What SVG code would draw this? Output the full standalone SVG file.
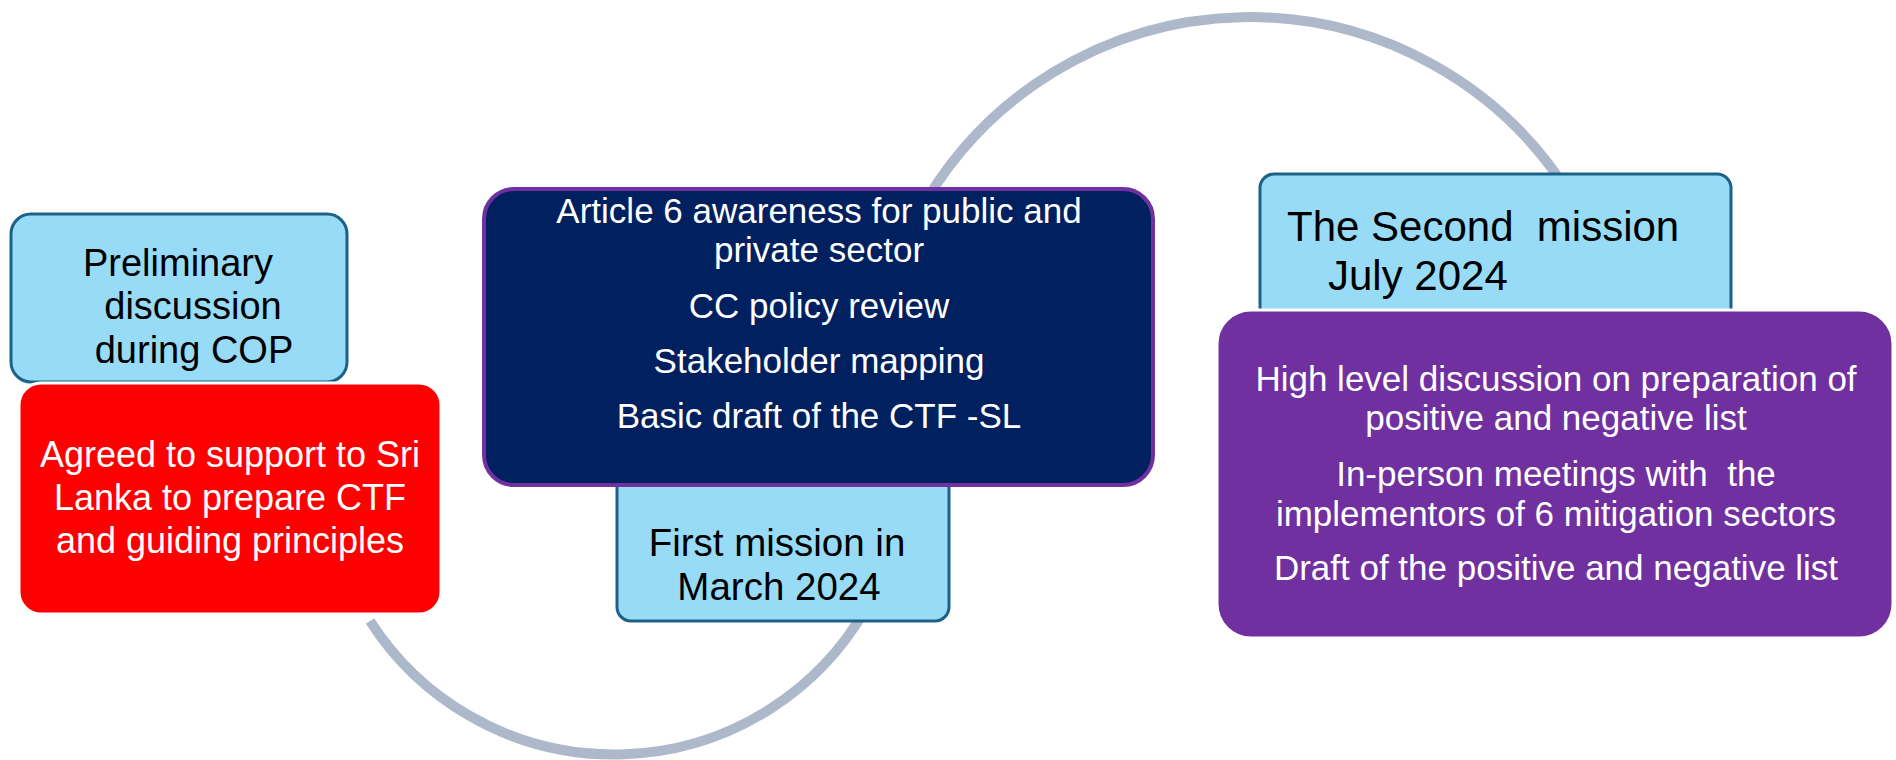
<svg xmlns="http://www.w3.org/2000/svg" width="1896" height="760" viewBox="0 0 1896 760">
<style>
  .arc { fill: none; stroke: #ADB9CA; stroke-width: 10; }
  .lb { fill: #97DBF7; stroke: #1C6288; stroke-width: 3; }
  .t { font-family: "Liberation Sans", Arial, sans-serif; }
  .dark { fill: #000000; }
  .light { fill: #FFFFFF; }
  .mid { text-anchor: middle; }
</style>
<rect width="1896" height="760" fill="#FFFFFF"/>
<g id="connectors">
  <path class="arc" d="M 918 215 A 377 377 0 0 1 1573 200"/>
  <path class="arc" d="M 370 621 A 290 290 0 0 0 865 610"/>
</g>
<g id="preliminary">
  <rect class="lb" x="11" y="214" width="336" height="168" rx="20"/>
  <text class="t dark mid" font-size="38"><tspan x="178" y="276">Preliminary</tspan><tspan x="193" y="319">discussion</tspan><tspan x="194" y="363">during COP</tspan></text>
</g>
<g id="agreed">
  <rect x="19" y="383" width="422" height="231" rx="22" fill="#FF0000" stroke="#FFFFFF" stroke-width="3"/>
  <text class="t light mid" font-size="36"><tspan x="230" y="467">Agreed to support to Sri</tspan><tspan x="230" y="510">Lanka to prepare CTF</tspan><tspan x="230" y="553">and guiding principles</tspan></text>
</g>
<g id="first-mission">
  <rect class="lb" x="617" y="470" width="332" height="151" rx="14"/>
  <text class="t dark mid" font-size="38.5"><tspan x="777" y="556">First mission in</tspan><tspan x="779" y="600">March 2024</tspan></text>
</g>
<g id="first-mission-activities">
  <rect x="484" y="189" width="669" height="296" rx="30" fill="#002060" stroke="#7030A0" stroke-width="4"/>
  <text class="t light mid" font-size="35"><tspan x="819" y="223">Article 6 awareness for public and</tspan><tspan x="819" y="262">private sector</tspan><tspan x="819" y="318">CC policy review</tspan><tspan x="819" y="373">Stakeholder mapping</tspan><tspan x="819" y="428">Basic draft of the CTF -SL</tspan></text>
</g>
<g id="second-mission">
  <rect class="lb" x="1260" y="174" width="471" height="150" rx="14"/>
  <text class="t dark" font-size="42"><tspan x="1287" y="241">The Second&#160; mission</tspan><tspan x="1328" y="290">July 2024</tspan></text>
</g>
<g id="second-mission-activities">
  <rect x="1217" y="310" width="676" height="328" rx="34" fill="#7030A0" stroke="#FFFFFF" stroke-width="3"/>
  <text class="t light mid" font-size="35"><tspan x="1556" y="391">High level discussion on preparation of</tspan><tspan x="1556" y="430">positive and negative list</tspan><tspan x="1556" y="486">In-person meetings with&#160; the</tspan><tspan x="1556" y="526">implementors of 6 mitigation sectors</tspan><tspan x="1556" y="580">Draft of the positive and negative list</tspan></text>
</g>
</svg>
